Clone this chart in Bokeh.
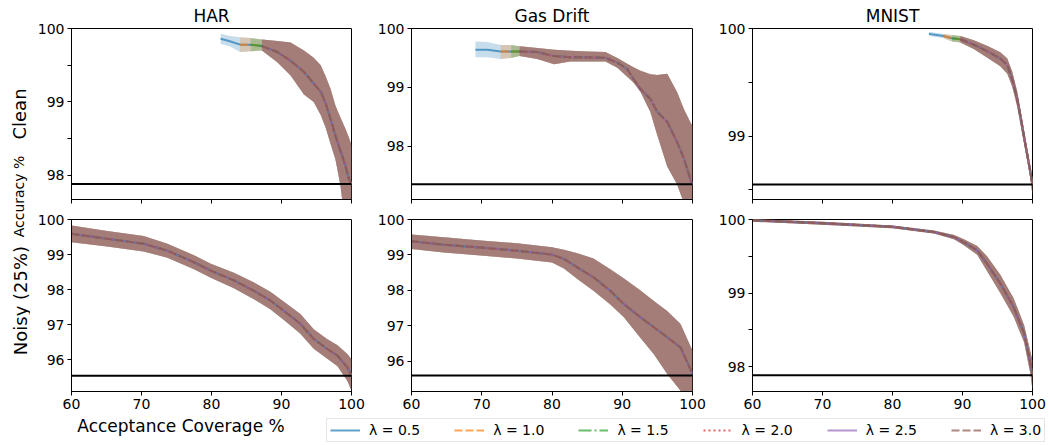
import numpy as np
from bokeh.plotting import figure
from bokeh.models import Range1d, FixedTicker, Span, Label, Legend, LegendItem
from bokeh.layouts import row, column
from bokeh.embed import file_html
from bokeh.resources import INLINE

# ---------------- data ----------------
lambdas = [0.5, 1.0, 1.5, 2.0, 2.5, 3.0]
datasets = ["HAR", "Gas Drift", "MNIST"]
conditions = ["Clean", "Noisy (25%)"]
coverage_ticks = [60, 70, 80, 90, 100]

# HAR - clean
har_clean_cov = [81.3, 82.5, 84.1, 85.6, 87.2, 89.4, 91.3, 93.2, 94.6, 95.6, 96.3, 97.0, 97.7, 98.4, 99.1, 99.6, 100.0]
har_clean_acc = [99.86, 99.83, 99.78, 99.78, 99.76, 99.68, 99.56, 99.41, 99.25, 99.14, 98.98, 98.77, 98.54, 98.34, 98.14, 97.96, 97.88]
har_clean_hi = [99.93, 99.90, 99.88, 99.87, 99.85, 99.83, 99.81, 99.70, 99.60, 99.50, 99.35, 99.18, 98.95, 98.79, 98.64, 98.52, 98.41]
har_clean_lo = [99.79, 99.76, 99.68, 99.69, 99.70, 99.54, 99.36, 99.10, 99.00, 98.82, 98.65, 98.43, 98.22, 97.87, 97.35, 97.00, 96.70]
har_clean_start = [81.3, 84.1, 85.6, 87.2, 87.2, 87.2]
har_clean_base = 97.88

# Gas Drift - clean
gas_clean_cov = [69.1, 70.8, 72.7, 74.2, 75.4, 77.9, 80.3, 82.6, 85.0, 87.6, 89.3, 90.7, 91.6, 92.6, 94.0, 95.0, 96.4, 97.8, 98.8, 99.8, 100.0]
gas_clean_acc = [99.64, 99.64, 99.61, 99.61, 99.61, 99.60, 99.53, 99.51, 99.51, 99.50, 99.42, 99.31, 99.14, 98.97, 98.80, 98.58, 98.41, 98.07, 97.78, 97.39, 97.35]
gas_clean_hi = [99.78, 99.77, 99.72, 99.72, 99.70, 99.67, 99.64, 99.62, 99.61, 99.60, 99.50, 99.40, 99.34, 99.28, 99.22, 99.21, 99.23, 98.92, 98.62, 98.38, 98.35]
gas_clean_lo = [99.51, 99.51, 99.48, 99.50, 99.53, 99.48, 99.39, 99.44, 99.44, 99.44, 99.33, 99.18, 99.08, 98.92, 98.58, 98.18, 97.65, 97.35, 97.02, 96.85, 96.80]
gas_clean_start = [69.1, 72.7, 74.2, 75.4, 75.4, 75.4]
gas_clean_base = 97.35

# MNIST - clean
mnist_clean_cov = [85.2, 87.3, 88.5, 89.7, 91.6, 93.5, 95.4, 96.4, 97.1, 97.8, 98.5, 99.1, 99.6, 100.0]
mnist_clean_acc = [99.95, 99.93, 99.91, 99.90, 99.85, 99.79, 99.72, 99.66, 99.53, 99.35, 99.10, 98.88, 98.70, 98.55]
mnist_clean_hi = [99.97, 99.95, 99.94, 99.93, 99.89, 99.84, 99.78, 99.72, 99.60, 99.42, 99.17, 98.94, 98.76, 98.62]
mnist_clean_lo = [99.93, 99.91, 99.88, 99.87, 99.81, 99.73, 99.65, 99.58, 99.46, 99.28, 99.03, 98.82, 98.64, 98.45]
mnist_clean_start = [85.2, 87.3, 88.5, 89.7, 89.7, 89.7]
mnist_clean_base = 98.55

# HAR - noisy (25%)
har_noisy_cov = [60.0, 65.1, 70.3, 73.7, 77.5, 79.9, 83.2, 86.0, 88.4, 90.3, 92.7, 94.6, 96.5, 98.0, 99.4, 100.0]
har_noisy_acc = [99.59, 99.45, 99.31, 99.11, 98.78, 98.54, 98.26, 97.97, 97.69, 97.40, 97.02, 96.59, 96.31, 96.11, 95.78, 95.56]
har_noisy_hi = [99.83, 99.67, 99.53, 99.31, 98.98, 98.74, 98.48, 98.21, 97.94, 97.66, 97.30, 96.87, 96.59, 96.41, 96.16, 96.01]
har_noisy_lo = [99.35, 99.23, 99.09, 98.91, 98.58, 98.34, 98.04, 97.73, 97.44, 97.14, 96.74, 96.31, 96.03, 95.81, 95.40, 95.11]
har_noisy_start = [60.0, 60.0, 60.0, 60.0, 60.0, 60.0]
har_noisy_base = 95.54

# Gas Drift - noisy (25%)
gas_noisy_cov = [60.0, 64.6, 70.3, 75.0, 80.0, 81.7, 83.6, 85.9, 88.3, 90.2, 92.6, 94.5, 96.4, 98.3, 100.0]
gas_noisy_acc = [99.39, 99.29, 99.20, 99.12, 99.01, 98.89, 98.65, 98.37, 97.99, 97.62, 97.24, 96.96, 96.68, 96.39, 95.65]
gas_noisy_hi = [99.58, 99.50, 99.40, 99.33, 99.22, 99.15, 99.05, 98.90, 98.60, 98.34, 98.00, 97.70, 97.42, 97.05, 96.30]
gas_noisy_lo = [99.17, 99.07, 98.98, 98.90, 98.79, 98.62, 98.32, 97.99, 97.60, 97.25, 96.66, 96.20, 95.64, 95.17, 94.95]
gas_noisy_start = [60.0, 60.0, 60.0, 60.0, 60.0, 60.0]
gas_noisy_base = 95.60

# MNIST - noisy (25%)
mnist_noisy_cov = [60.0, 70.0, 80.0, 85.9, 88.8, 90.2, 92.1, 93.5, 95.4, 97.3, 98.8, 99.7, 100.0]
mnist_noisy_acc = [99.99, 99.95, 99.90, 99.83, 99.76, 99.69, 99.58, 99.40, 99.13, 98.81, 98.45, 98.04, 97.88]
mnist_noisy_hi = [100.01, 99.97, 99.92, 99.85, 99.79, 99.73, 99.64, 99.50, 99.25, 98.93, 98.56, 98.20, 98.08]
mnist_noisy_lo = [99.97, 99.93, 99.88, 99.81, 99.73, 99.65, 99.52, 99.30, 99.00, 98.68, 98.33, 97.90, 97.68]
mnist_noisy_start = [60.0, 60.0, 60.0, 60.0, 60.0, 60.0]
mnist_noisy_base = 97.88

# ---------------- styling ----------------
colors = ["#1f77b4", "#ff7f0e", "#2ca02c", "#d62728", "#9467bd", "#8c564b"]
dashes = ["solid", "8 3", "13 3 2 3", "2 3", "solid", "8 3"]
FONT = "DejaVu Sans"
TICK_SIZE = "14px"

panel_data = [
    [(har_clean_cov, har_clean_acc, har_clean_lo, har_clean_hi, har_clean_start, har_clean_base),
     (gas_clean_cov, gas_clean_acc, gas_clean_lo, gas_clean_hi, gas_clean_start, gas_clean_base),
     (mnist_clean_cov, mnist_clean_acc, mnist_clean_lo, mnist_clean_hi, mnist_clean_start, mnist_clean_base)],
    [(har_noisy_cov, har_noisy_acc, har_noisy_lo, har_noisy_hi, har_noisy_start, har_noisy_base),
     (gas_noisy_cov, gas_noisy_acc, gas_noisy_lo, gas_noisy_hi, gas_noisy_start, gas_noisy_base),
     (mnist_noisy_cov, mnist_noisy_acc, mnist_noisy_lo, mnist_noisy_hi, mnist_noisy_start, mnist_noisy_base)],
]
ylims = [[(97.67, 100.0), (97.09, 100.0), (98.41, 100.0)],
         [(95.09, 100.0), (95.15, 100.0), (97.66, 100.0)]]
ymajor = [[[98, 99, 100], [98, 99, 100], [99, 100]],
          [[96, 97, 98, 99, 100], [96, 97, 98, 99, 100], [98, 99, 100]]]
yminor = [[[98.5, 99.5], [], [98.5, 99.5]],
          [[], [], [98.5, 99.5]]]

col_left = [41, 40, 40]
col_right = [20, 20, 18]
frame_w = [280, 281, 280]
row_top = [28, 10]
row_frame_h = [171, 172]
row_bottom = [10, 26]


def style_axis(ax):
    ax.major_tick_in = 0
    ax.major_tick_out = 4
    ax.minor_tick_in = 0
    ax.minor_tick_out = 4
    ax.major_tick_line_color = "black"
    ax.minor_tick_line_color = "black"
    ax.axis_line_color = "black"
    ax.major_label_text_font = FONT
    ax.major_label_text_color = "black"
    ax.major_label_text_font_size = TICK_SIZE
    ax.major_label_standoff = 3


rows_of_figs = []
for r in range(2):
    figs = []
    for c in range(3):
        cov, acc, lo, hi, starts, base = panel_data[r][c]
        kw = dict(
            width=col_left[c] + frame_w[c] + col_right[c],
            height=row_top[r] + row_frame_h[r] + row_bottom[r],
            x_range=Range1d(60, 100), y_range=Range1d(*ylims[r][c]),
            output_backend="svg", toolbar_location=None,
            min_border_left=col_left[c], min_border_right=col_right[c],
            min_border_top=row_top[r], min_border_bottom=row_bottom[r],
        )
        if r == 0:
            p = figure(title=datasets[c], **kw)
            p.title.align = "center"
            p.title.text_font = FONT
            p.title.text_font_size = "17px"
            p.title.text_font_style = "normal"
            p.title.text_color = "black"
            p.title.standoff = 6
            # shared x axis: ticks only, no labels on the top row
            p.xaxis.ticker = FixedTicker(ticks=[], minor_ticks=coverage_ticks)
        else:
            p = figure(title=None, **kw)
            p.xaxis.ticker = FixedTicker(ticks=coverage_ticks, minor_ticks=[])
        p.xgrid.visible = False
        p.ygrid.visible = False
        p.outline_line_color = "black"
        p.outline_line_width = 1
        p.background_fill_color = "white"
        p.border_fill_color = "white"
        p.yaxis.ticker = FixedTicker(ticks=ymajor[r][c], minor_ticks=yminor[r][c])
        style_axis(p.xaxis[0])
        style_axis(p.yaxis[0])

        cov_a = np.array(cov)
        acc_a = np.array(acc)
        lo_a = np.array(lo)
        hi_a = np.array(hi)
        masks = [cov_a >= starts[i] - 1e-9 for i in range(len(lambdas))]
        for i, lam in enumerate(lambdas):
            m = masks[i]
            p.varea(x=cov_a[m], y1=lo_a[m], y2=hi_a[m], fill_color=colors[i], fill_alpha=0.25)
        for i, lam in enumerate(lambdas):
            m = masks[i]
            p.line(x=cov_a[m], y=acc_a[m], line_color=colors[i], line_alpha=0.7,
                   line_width=2, line_dash=dashes[i])
        p.add_layout(Span(location=base, dimension="width", line_color="black", line_width=2))
        figs.append(p)
    rows_of_figs.append(row(*figs, spacing=0))

# left label strip
total_h = sum(row_top) + sum(row_frame_h) + sum(row_bottom)
lab = figure(width=30, height=total_h, x_range=Range1d(0, 30), y_range=Range1d(total_h, 0),
             output_backend="svg", toolbar_location=None, min_border=0)
lab.axis.visible = False
lab.grid.visible = False
lab.outline_line_color = None
lab.add_layout(Label(x=19, y=113.5, text=conditions[0], angle=np.pi / 2, text_align="center",
                     text_baseline="middle", text_font=FONT, text_font_size="18px", text_color="black"))
lab.add_layout(Label(x=18, y=196, text="Accuracy %", angle=np.pi / 2, text_align="center",
                     text_baseline="middle", text_font=FONT, text_font_size="14px", text_color="black"))
lab.add_layout(Label(x=20, y=300, text=conditions[1], angle=np.pi / 2, text_align="center",
                     text_baseline="middle", text_font=FONT, text_font_size="18px", text_color="black"))

# bottom strip: x label + legend
bh = 445 - total_h
bot = figure(width=1050, height=bh, x_range=Range1d(0, 1050), y_range=Range1d(bh, 0),
             output_backend="svg", toolbar_location=None, min_border=0)
bot.axis.visible = False
bot.grid.visible = False
bot.outline_line_color = None
bot.add_layout(Label(x=180.5, y=bh - 19.5, text="Acceptance Coverage %", text_align="center",
                     text_baseline="alphabetic", text_font=FONT, text_font_size="17px", text_color="black"))
items = []
for i, lam in enumerate(lambdas):
    # legend key renderers, placed outside the visible range of this strip
    rr = bot.line(x=[-50, -40], y=[-50, -50], line_color=colors[i], line_alpha=0.7,
                  line_width=2, line_dash=dashes[i])
    items.append(LegendItem(label=f"λ = {lam}", renderers=[rr]))
legend = Legend(items=items, orientation="horizontal", location=(326, 3),
                glyph_width=30, glyph_height=14, label_height=14, label_standoff=9,
                spacing=34, padding=3, margin=0,
                border_line_color="#cccccc", border_line_width=1,
                label_text_font=FONT, label_text_font_size=TICK_SIZE, label_text_color="black")
bot.add_layout(legend)

layout = column(row(lab, column(*rows_of_figs, spacing=0), spacing=0), bot, spacing=0)

open("out.html", "w").write(file_html(layout, INLINE))
